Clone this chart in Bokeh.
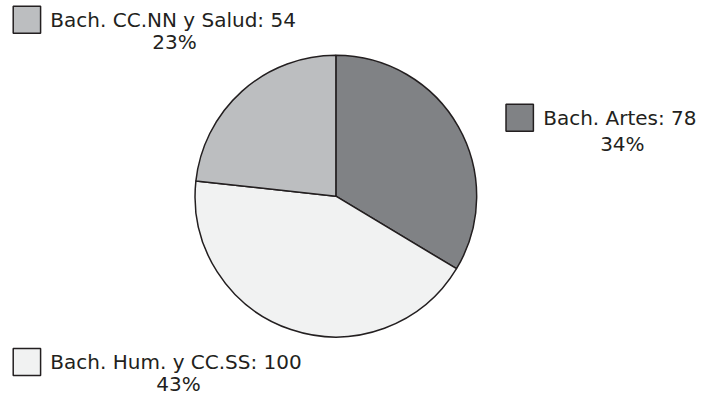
import numpy as np
from bokeh.plotting import figure
from bokeh.models import Range1d, ColumnDataSource
from bokeh.embed import file_html
from bokeh.resources import INLINE
from bokeh.core.properties import value

# ---- data ----
categories = ["Bach. Artes", "Bach. Hum. y CC.SS", "Bach. CC.NN y Salud"]
counts = [78, 100, 54]
colors = ["#808285", "#f1f2f2", "#bcbec0"]

# ---- layout (reference image px, 720x414, y measured from the top) ----
REF_W, REF_H = 720, 414
W, H = 704, 398
cx_s, cy_s, R = 343, 203.5, 144
box_xy = [(531, 122), (27, 376), (27, 20)]
label_xy = [(555, 122), (51, 376), (51, 20)]
pct_xy = [(636, 149), (182, 399), (178, 43)]
FONT = "20px"

def fy(y):
    return REF_H - y

total = sum(counts)
frac = np.array(counts) / total
cum = np.concatenate([[0], np.cumsum(frac)])
starts = np.pi / 2 - 2 * np.pi * cum[:-1]
ends = np.pi / 2 - 2 * np.pi * cum[1:]
pcts = [f"{round(f * 100)}%" for f in frac]
labels = [f"{c}: {n}" for c, n in zip(categories, counts)]

p = figure(width=W, height=H, output_backend="svg", toolbar_location=None,
           x_range=Range1d(0, REF_W), y_range=Range1d(0, REF_H),
           min_border=0)
p.axis.visible = False
p.grid.visible = False
p.outline_line_color = None
p.background_fill_color = "white"
p.border_fill_color = "white"

src = ColumnDataSource(dict(start=starts, end=ends, color=colors))
p.wedge(x=cx_s, y=fy(cy_s), radius=R, start_angle="start", end_angle="end",
        direction="clock", fill_color="color", line_color="#231f20",
        line_width=1.5, source=src)

lsrc = ColumnDataSource(dict(
    bx=[b[0] for b in box_xy], by=[fy(b[1]) for b in box_xy],
    lx=[l[0] for l in label_xy], ly=[fy(l[1]) for l in label_xy],
    px=[q[0] for q in pct_xy], py=[fy(q[1]) for q in pct_xy],
    color=colors, label=labels, pct=pcts))

p.rect(x="bx", y="by", width=28, height=28, fill_color="color",
       line_color="#231f20", line_width=1.5, source=lsrc)
p.text(x="lx", y="ly", text="label", text_font=value("DejaVu Sans"),
       text_font_size=FONT, text_align="left", text_baseline="middle",
       text_color="#231f20", source=lsrc)
p.text(x="px", y="py", text="pct", text_font=value("DejaVu Sans"),
       text_font_size=FONT, text_align="center", text_baseline="middle",
       text_color="#231f20", source=lsrc)

open("out.html", "w").write(file_html(p, INLINE))
